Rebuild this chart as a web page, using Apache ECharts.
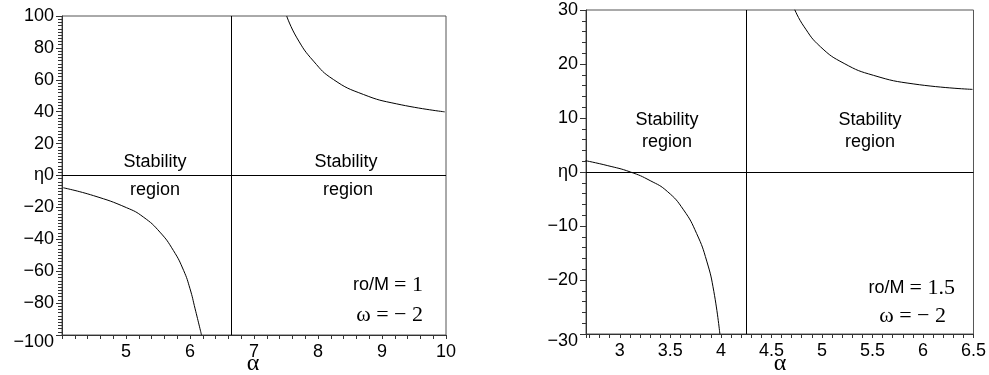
<!DOCTYPE html>
<html>
<head>
<meta charset="utf-8">
<script src="https://cdn.jsdelivr.net/npm/echarts@6/dist/echarts.min.js"></script>
<style>
  html, body { margin: 0; padding: 0; background: #fff; }
  #chart { width: 989px; height: 375px; }
</style>
</head>
<body>
<div id="chart"></div>
<script>
// left panel: ro/M = 1, omega = -2
const leftLowAlpha = [4.02, 4.49, 5.01, 5.27, 5.53, 5.74, 5.90, 6.00, 6.08, 6.18];
const leftLowEta = [-7.7, -12.6, -20.2, -26, -35.5, -47, -59.5, -71, -83.6, -100];
const leftHighAlpha = [7.51, 7.67, 7.93, 8.24, 8.71, 9.23, 9.98];
const leftHighEta = [100, 86.3, 71.7, 60.2, 50.8, 44.9, 39.9];
const leftAsymptote = 6.65;

// right panel: ro/M = 1.5, omega = -2
const rightLowAlpha = [2.66, 2.875, 3.105, 3.30, 3.47, 3.63, 3.76, 3.86, 3.93, 3.99];
const rightLowEta = [2.1, 1.2, 0, -1.6, -3.6, -7.0, -11.4, -16.5, -22.1, -30];
const rightHighAlpha = [4.73, 4.82, 4.985, 5.22, 5.51, 5.91, 6.49];
const rightHighEta = [30.1, 27, 23.2, 20.1, 17.9, 16.3, 15.3];
const rightAsymptote = 4.25;

const zip = (xs, ys) => xs.map((x, i) => [x, ys[i]]);
const minus = v => String(v).replace('-', '\u2212');

const tickFont = { fontFamily: 'Liberation Sans', fontSize: 18, color: '#000' };
const axisLineStyle = { lineStyle: { color: '#333', width: 1 } };

function xAxisOf(gridIndex, min, max, extra) {
  return Object.assign({
    type: 'value', gridIndex, min, max,
    axisLine: Object.assign({ onZero: false }, axisLineStyle),
    axisTick: { show: true, length: 4, lineStyle: { color: '#333' } },
    minorTick: { show: true, splitNumber: 5, length: 4, lineStyle: { color: '#333' } },
    splitLine: { show: false },
    axisLabel: Object.assign({ margin: 8, showMinLabel: false, formatter: minus }, tickFont)
  }, extra);
}

function yAxisOf(gridIndex, min, max, interval, minorSplit) {
  return {
    type: 'value', gridIndex, min, max, interval,
    axisLine: Object.assign({ onZero: false }, axisLineStyle),
    axisTick: { show: true, length: 6, lineStyle: { color: '#333' } },
    minorTick: { show: true, splitNumber: minorSplit, length: 4, lineStyle: { color: '#333' } },
    splitLine: { show: false },
    axisLabel: Object.assign({
      margin: 8,
      // bottom label sits a little below the axis end, as in the original
      formatter: v => v === min ? '{low|' + minus(v) + '}' : (v === 0 ? '\u03b70' : minus(v)),
      rich: { low: { fontFamily: 'Liberation Sans', fontSize: 18, color: '#000', padding: [14, 0, 0, 0] } }
    }, tickFont)
  };
}

const curve = (xi, data) => ({
  type: 'line', xAxisIndex: xi, yAxisIndex: xi, data,
  smooth: 0.5, showSymbol: false, silent: true,
  lineStyle: { color: '#000', width: 1 }
});

const guides = (xi, asym) => ({
  type: 'line', xAxisIndex: xi, yAxisIndex: xi, data: [],
  markLine: {
    silent: true, symbol: 'none', label: { show: false },
    lineStyle: { color: '#000', width: 1, type: 'solid' },
    data: [{ xAxis: asym }, { yAxis: 0 }]
  }
});

const sans = (text, x, y, align) => ({
  type: 'text', x, y,
  style: { text, fontFamily: 'Liberation Sans', fontSize: 18, fill: '#000',
           align: align || 'center', verticalAlign: 'middle' }
});

const note = (text, x, y) => ({
  type: 'text', x, y,
  style: {
    text, align: 'right', verticalAlign: 'middle', fill: '#000',
    rich: {
      s: { fontFamily: 'Liberation Sans', fontSize: 18, fill: '#000' },
      m: { fontFamily: 'Liberation Serif', fontSize: 22, fill: '#000' }
    }
  }
});

const alphaLabel = (x, y) => ({
  type: 'text', x, y,
  style: { text: '\u03b1', fontFamily: 'Liberation Serif', fontSize: 24, fill: '#000',
           align: 'center', verticalAlign: 'middle' }
});

const option = {
  backgroundColor: '#fff',
  animation: false,
  grid: [
    { left: 62, top: 16, width: 384, height: 319, show: true, borderColor: '#555', borderWidth: 1 },
    { left: 586, top: 10, width: 389, height: 324, show: true, borderColor: '#555', borderWidth: 1 }
  ],
  xAxis: [
    xAxisOf(0, 4, 10, { interval: 1 }),
    xAxisOf(1, 2.665, 6.5, { splitNumber: 7 })
  ],
  yAxis: [
    yAxisOf(0, -100, 100, 20, 10),
    yAxisOf(1, -30, 30, 10, 5)
  ],
  series: [
    curve(0, zip(leftLowAlpha, leftLowEta)),
    curve(0, zip(leftHighAlpha, leftHighEta)),
    guides(0, leftAsymptote),
    curve(1, zip(rightLowAlpha, rightLowEta)),
    curve(1, zip(rightHighAlpha, rightHighEta)),
    guides(1, rightAsymptote)
  ],
  graphic: [
    sans('Stability', 155, 162), sans('region', 155, 190),
    sans('Stability', 346, 162), sans('region', 348, 190),
    sans('Stability', 667, 120), sans('region', 667, 142),
    sans('Stability', 870, 120), sans('region', 870, 142),
    note('{s|ro/M }{m|= 1}', 423, 285),
    note('{m|\u03c9 = \u2212 2}', 423, 315),
    note('{s|ro/M }{m|= 1.5}', 955, 288),
    note('{m|\u03c9 = \u2212 2}', 946, 316),
    alphaLabel(253, 364),
    alphaLabel(780, 364)
  ]
};

const chart = echarts.init(document.getElementById('chart'));
chart.setOption(option);
</script>
</body>
</html>
